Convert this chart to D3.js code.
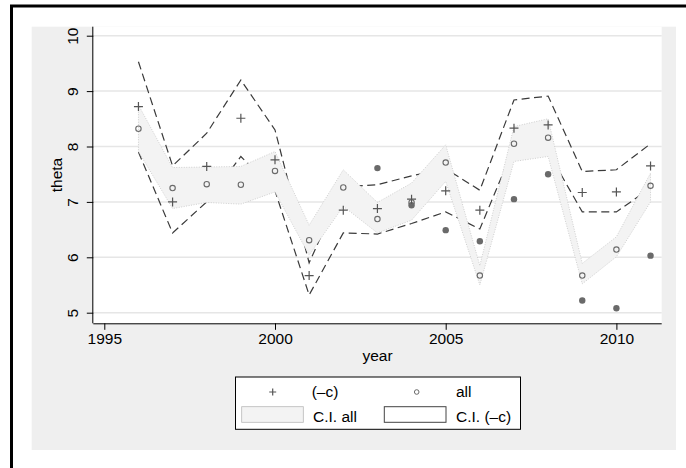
<!DOCTYPE html>
<html><head><meta charset="utf-8">
<script src="https://cdn.jsdelivr.net/npm/d3@7"></script>
<style>body{margin:0;background:#fff}svg{display:block}text{font-family:"Liberation Sans",Arial,sans-serif;fill:#000}</style>
</head><body><svg id="c" width="686" height="468"></svg>
<script>
const years = [1996,1997,1998,1999,2000,2001,2002,2003,2004,2005,2006,2007,2008,2009,2010,2011];
const thetaMinusC = [8.72,7.00,7.64,8.51,7.76,5.67,6.85,6.88,7.05,7.20,6.85,8.33,8.39,7.17,7.18,7.65];
const thetaAll    = [8.32,7.25,7.32,7.31,7.56,6.31,7.26,6.69,6.99,7.71,5.67,8.05,8.16,5.67,6.14,7.29];
const thetaOther  = [null,null,null,null,null,null,null,7.61,6.94,6.49,6.29,7.05,7.50,5.22,5.08,6.03];
const ciAllHi = [8.75,7.62,7.63,7.64,7.91,6.58,7.58,6.99,7.34,8.03,5.85,8.36,8.50,5.89,6.37,7.52];
const ciAllLo = [7.91,6.88,6.99,6.96,7.18,6.04,6.92,6.44,6.67,7.37,5.50,7.73,7.82,5.52,6.01,7.00];
const ciCHi   = [9.53,7.65,8.24,9.20,8.30,5.90,7.27,7.31,7.47,7.60,7.21,8.84,8.91,7.55,7.58,8.05];
const ciCLo   = [7.90,6.44,7.00,7.82,7.20,5.32,6.44,6.42,6.61,6.82,6.51,7.99,7.90,6.82,6.82,7.25];
const xTicks = [1995,2000,2005,2010];
const yTicks = [5,6,7,8,9,10];
const xTitle = "year", yTitle = "theta";
const legendLabels = ["(\u2013c)","all","C.I. all","C.I. (\u2013c)"];

const svg = d3.select("#c");
svg.append("path").attr("d","M11.5,470V6H690").attr("fill","none").attr("stroke","#000").attr("stroke-width",3);
svg.append("rect").attr("x",31.7).attr("y",26.7).attr("width",676-31.7).attr("height",450-26.7).attr("fill","#efefef");
const P = {l:93.3, r:661.7, t:26.7, b:323.3};
svg.append("rect").attr("x",P.l).attr("y",P.t).attr("width",P.r-P.l).attr("height",P.b-P.t).attr("fill","#fff");

const x = d3.scaleLinear().domain([1995,2010]).range([104.3,616.4]);
const y = d3.scaleLinear().domain([5,10]).range([312.7,35.7]);

svg.append("g").selectAll("line").data(yTicks).join("line")
  .attr("x1",P.l).attr("x2",P.r).attr("y1",d=>y(d)).attr("y2",d=>y(d))
  .attr("stroke","#e6e6e6").attr("stroke-width",1.5);

const idx = d3.range(years.length);
const lineOf = arr => d3.line().x(i=>x(years[i])).y(i=>y(arr[i]));
[ciCHi,ciCLo].forEach(arr=>svg.append("path").attr("d",lineOf(arr)(idx)).attr("fill","none")
  .attr("stroke","#3a3a3a").attr("stroke-width",1.2).attr("stroke-dasharray","8,4.5"));
const area = d3.area().x(i=>x(years[i])).y0(i=>y(ciAllLo[i])).y1(i=>y(ciAllHi[i]));
svg.append("path").attr("d",area(idx)).attr("fill","#f3f3f3").attr("stroke","#c4c4c4").attr("stroke-width",0.8).attr("stroke-dasharray","1,1.5");

const gx = svg.append("g").attr("transform",`translate(0,${P.b})`)
  .call(d3.axisBottom(x).tickValues(xTicks).tickFormat(d3.format("d")).tickSize(6.5).tickPadding(3).tickSizeOuter(0));
gx.select(".domain").attr("d",`M${P.l},0.5H${P.r}`).attr("stroke","#000");
gx.selectAll("text").attr("font-size","15.5px").attr("font-family","Liberation Sans, Arial, sans-serif").attr("fill","#000");
const gy = svg.append("g").attr("transform",`translate(${P.l},0)`)
  .call(d3.axisLeft(y).tickValues(yTicks).tickFormat(d3.format("d")).tickSize(6.5).tickSizeOuter(0));
gy.select(".domain").attr("d",`M-0.5,${P.t}V${P.b}`).attr("stroke","#000");
gy.selectAll("text").attr("font-size","15.5px").attr("font-family","Liberation Sans, Arial, sans-serif").attr("fill","#000")
  .attr("x",null).attr("dy",null).attr("text-anchor","middle")
  .attr("transform","translate(-15,0) rotate(-90)");

svg.append("text").attr("x",(P.l+P.r)/2).attr("y",361).attr("text-anchor","middle").attr("font-size","15.5px").text(xTitle);
svg.append("text").attr("transform",`translate(62,${(P.t+P.b)/2}) rotate(-90)`).attr("text-anchor","middle").attr("font-size","15.5px").text(yTitle);

const plus = (g,cx,cy,s) => g.append("path").attr("d",`M${cx-s},${cy}H${cx+s}M${cx},${cy-s}V${cy+s}`).attr("stroke","#555").attr("stroke-width",1.2).attr("fill","none");
const gm = svg.append("g");
gm.selectAll("circle.o").data(idx.filter(i=>thetaOther[i]!=null)).join("circle").attr("class","o")
  .attr("cx",i=>x(years[i])).attr("cy",i=>y(thetaOther[i])).attr("r",3.2).attr("fill","#6a6a6a");
gm.selectAll("circle.a").data(idx).join("circle").attr("class","a")
  .attr("cx",i=>x(years[i])).attr("cy",i=>y(thetaAll[i])).attr("r",2.7).attr("fill","none").attr("stroke","#6a6a6a").attr("stroke-width",1.1);
idx.forEach(i=>plus(gm,x(years[i]),y(thetaMinusC[i]),4.5));

const L = svg.append("g");
L.append("rect").attr("x",235.5).attr("y",377).attr("width",285).attr("height",52.3).attr("fill","#fff").attr("stroke","#000").attr("stroke-width",1);
plus(L,272.7,392,3.5);
L.append("circle").attr("cx",416.7).attr("cy",392).attr("r",2.3).attr("fill","none").attr("stroke","#6a6a6a").attr("stroke-width",1);
L.append("rect").attr("x",241.7).attr("y",406.7).attr("width",61.6).attr("height",15.6).attr("fill","#f3f3f3").attr("stroke","#b8b8b8").attr("stroke-width",0.8);
L.append("rect").attr("x",384.3).attr("y",406.7).attr("width",61.7).attr("height",15.6).attr("fill","#fff").attr("stroke","#444").attr("stroke-width",1);
const lt = [[311.7,397,0],[456,397,1],[313,422,2],[456,422,3]];
lt.forEach(([tx,ty,k])=>L.append("text").attr("x",tx).attr("y",ty).attr("font-size","15.5px").text(legendLabels[k]));
</script></body></html>
